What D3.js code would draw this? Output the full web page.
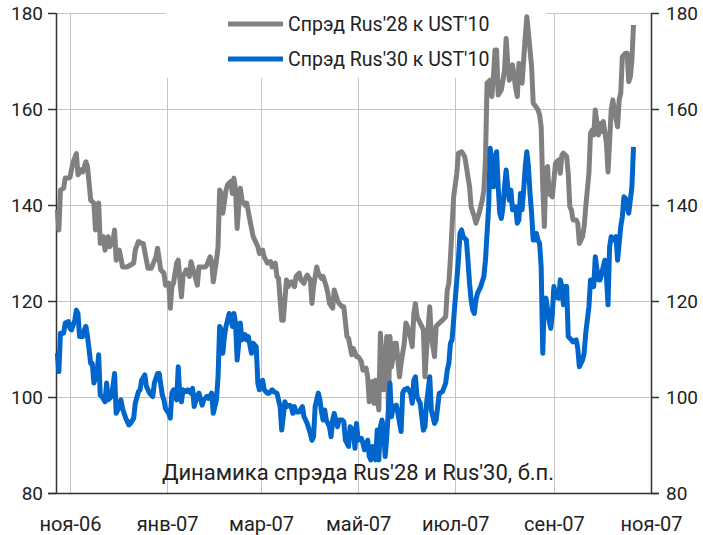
<!DOCTYPE html>
<html><head><meta charset="utf-8">
<script src="https://cdn.jsdelivr.net/npm/d3@7"></script>
<style>
body{margin:0;background:#fff}
svg{display:block}
text{font-family:Roboto,"Noto Sans",sans-serif;fill:#222}
</style>
</head><body>
<svg id="chart" width="703" height="535"></svg>
<script>
// ---- data ----
const seriesNames = ["Спрэд Rus'28 к UST'10", "Спрэд Rus'30 к UST'10"];
const seriesColors = ["#808080", "#0066cc"];
const chartTitle = "Динамика спрэда Rus'28 и Rus'30, б.п.";
const baseDate = "2006-11-01"; // day offsets below are counted from this date
const tickDates = ["2006-11-01","2007-01-01","2007-03-01","2007-05-01","2007-07-01","2007-09-01","2007-11-01"];
const tickLabels = ["ноя-06","янв-07","мар-07","май-07","июл-07","сен-07","ноя-07"];
const yTicks = [80,100,120,140,160,180];

const rus28Days = [-8,-7,-6,-4,-3,-1,0,2,4,5,7,8,10,11,13,15,16,17,18,19,21,22,24,25,27,28,29,31,32,33,36,38,40,41,43,45,46,48,49,51,54,55,57,59,60,62,63,64,65,67,68,70,71,73,75,76,78,80,81,83,85,86,88,89,90,92,93,94,95,96,98,99,101,102,103,104,105,106,107,108,110,111,113,115,118,119,121,122,124,126,127,129,130,131,133,134,136,137,138,139,141,142,144,145,147,148,149,151,152,153,155,156,158,159,161,162,163,165,166,168,169,171,172,174,175,177,178,180,181,183,184,186,187,188,190,191,192,193,194,195,196,197,199,200,201,202,203,204,205,206,207,208,210,211,212,214,215,216,217,218,220,222,223,224,226,227,229,230,232,234,236,237,238,239,241,243,244,246,248,249,251,252,254,255,257,259,260,261,262,264,265,266,267,268,269,271,272,273,274,275,276,277,278,280,281,282,283,284,285,286,287,288,290,291,292,294,295,296,297,298,299,300,301,303,304,305,307,308,309,310,312,313,314,315,316,318,319,320,322,323,324,326,327,328,329,330,332,333,334,335,337,338,340,341,342,344,345,346,347,349,350,351,352,353,354];
const rus28 = [139.0,134.8,143.1,143.5,145.6,145.6,145.8,149.0,150.7,146.3,147.3,146.9,149.0,148.0,141.0,140.4,134.8,136.2,140.4,132.0,133.4,130.6,133.4,131.3,132.4,134.8,128.5,130.6,128.9,127.1,127.1,127.5,127.9,130.6,132.4,132.0,132.0,128.5,126.8,126.8,129.2,131.0,126.5,125.8,123.3,123.7,118.5,123.0,123.7,127.9,128.5,120.9,125.1,126.5,125.1,128.2,125.8,123.3,127.1,127.1,127.1,127.5,129.2,128.2,124.0,128.5,131.3,143.1,142.4,138.3,143.1,144.2,144.9,142.4,145.6,143.1,135.1,139.6,143.5,141.0,140.0,140.4,136.9,133.5,131.3,129.9,130.6,129.2,127.9,128.2,127.1,127.9,125.1,124.7,116.0,116.0,124.4,123.0,123.7,124.0,123.0,125.1,125.8,124.4,123.7,124.7,125.4,124.4,119.5,123.0,127.1,125.8,124.7,125.1,123.0,121.6,119.5,118.5,122.3,120.2,119.5,118.8,118.8,112.6,112.2,108.8,110.1,108.4,108.4,107.4,105.6,106.0,104.2,99.0,103.2,98.7,103.5,100.1,97.3,113.3,107.7,101.5,112.6,98.0,112.6,106.3,108.4,111.2,111.2,107.7,104.2,107.0,111.2,115.4,114.7,112.2,110.5,117.4,119.5,116.7,115.4,114.0,104.2,109.8,118.8,112.6,108.4,114.7,115.4,116.0,116.7,122.3,123.7,128.9,141.7,146.6,150.8,151.1,150.1,148.0,143.8,139.6,137.6,136.2,138.3,141.0,143.1,149.4,165.4,166.0,162.6,166.7,172.3,172.3,162.9,164.0,166.0,168.1,174.7,169.5,166.0,168.1,169.2,164.3,162.6,169.5,166.4,165.4,170.2,175.1,179.2,175.8,168.8,161.2,160.8,159.8,158.8,156.3,143.8,135.5,147.3,148.0,142.4,141.7,145.2,148.7,149.4,146.6,150.4,150.8,150.1,146.6,139.6,139.0,136.9,136.9,136.2,132.0,133.4,135.5,139.6,146.6,154.9,155.6,154.6,159.8,154.6,157.0,155.3,157.4,152.9,146.9,159.8,161.9,159.8,156.3,161.9,163.3,170.9,171.6,171.6,165.7,166.7,170.2,177.5];

const rus30Days = [-8,-7,-6,-4,-3,-1,0,1,3,4,5,6,8,9,10,11,13,14,15,17,18,19,20,22,23,24,26,27,28,29,30,32,33,35,37,38,40,41,43,44,45,47,48,50,52,53,55,56,58,59,60,62,63,64,65,67,68,69,70,71,73,74,76,77,78,80,81,83,84,86,87,89,90,92,93,94,95,96,97,98,100,101,102,103,104,105,106,107,108,110,111,112,114,115,117,118,119,121,122,124,125,127,128,130,131,132,133,135,136,138,139,140,141,142,144,146,147,148,149,151,152,153,154,156,157,158,159,160,161,162,163,164,165,166,168,169,171,172,173,175,176,178,179,180,181,183,184,185,187,188,189,190,192,193,194,195,196,197,198,199,200,201,202,203,205,206,208,209,210,212,214,215,216,217,218,220,222,223,224,226,227,229,230,232,234,236,237,238,239,240,242,244,245,246,247,249,250,251,252,253,254,255,256,258,260,261,262,263,264,265,266,267,268,269,270,271,272,273,274,275,276,277,278,280,281,282,283,284,285,286,287,288,289,290,291,292,293,294,295,296,297,298,299,301,302,303,304,305,307,308,309,310,311,312,313,315,316,318,319,320,322,323,324,326,327,328,329,330,332,333,335,336,337,338,339,340,342,343,344,346,347,348,349,351,352,353,354];
const rus30 = [109.1,105.3,113.3,113.3,115.4,115.7,114.3,114.0,116.0,118.1,117.4,112.6,112.6,114.0,114.7,112.6,107.0,107.0,102.9,104.9,108.8,100.4,100.1,99.0,102.9,99.4,100.1,102.2,104.9,96.6,97.3,99.4,97.6,95.6,94.2,94.5,95.6,98.7,101.1,101.5,103.5,104.6,102.2,100.8,100.1,102.9,104.9,104.9,100.4,99.4,97.6,96.6,95.6,100.8,101.5,99.4,106.3,100.1,99.0,101.5,101.1,101.5,100.8,101.8,98.0,100.4,100.8,98.3,99.4,100.1,99.7,100.8,96.6,99.4,104.2,114.7,114.0,109.1,112.6,114.7,117.4,116.7,114.7,117.4,115.4,107.7,111.2,115.4,111.9,113.0,111.9,112.6,109.1,111.2,110.5,102.9,101.5,103.5,101.5,100.8,100.8,101.5,101.1,100.8,99.4,98.0,93.1,99.0,98.0,98.3,98.0,96.6,98.0,96.9,96.9,98.0,95.9,95.2,94.5,92.4,91.0,91.7,98.0,100.8,99.4,96.9,95.2,97.3,95.2,94.5,93.8,91.7,95.2,96.6,93.8,95.2,95.2,94.9,91.0,89.7,93.8,93.1,89.3,94.5,91.0,91.4,90.4,89.0,91.0,87.6,86.9,89.7,86.9,93.1,86.9,93.8,95.2,93.1,87.6,91.7,97.3,102.9,95.9,98.0,98.3,96.6,92.8,100.8,101.5,101.8,100.8,98.7,103.5,104.2,100.1,98.7,93.1,93.8,98.7,104.2,97.3,94.5,95.2,100.8,101.1,102.9,105.6,107.0,111.2,111.9,120.2,128.5,134.1,134.8,133.4,132.7,128.5,123.7,120.2,118.1,117.4,120.2,121.6,123.0,125.1,128.5,134.1,139.6,151.8,148.0,143.8,150.1,151.1,143.8,138.3,137.2,139.6,143.8,147.3,143.8,141.0,143.1,139.0,139.6,136.2,136.9,142.4,139.0,143.1,148.0,151.1,148.0,142.4,138.3,132.7,132.7,134.1,132.7,132.0,127.1,109.1,120.2,120.6,116.0,114.3,117.4,123.0,120.9,120.6,124.4,123.0,119.2,123.0,123.0,112.6,111.9,111.5,111.9,110.1,106.3,107.7,109.1,113.3,118.8,124.4,124.4,123.0,129.2,124.4,124.4,127.1,128.5,125.1,119.2,131.3,133.4,132.7,133.4,128.5,135.5,137.6,141.7,141.4,138.3,141.0,143.8,152.1];

// ---- chart ----
const svg = d3.select("#chart");
const plot = {left: 56, right: 651, top: 13, bottom: 493};
const base = new Date(baseDate + "T00:00:00Z");
const toDate = d => d3.utcDay.offset(base, d);
const start = new Date(base.getTime() - 8.8 * 864e5);
const x = d3.scaleUtc().domain([start, new Date(tickDates[6] + "T00:00:00Z")]).range([plot.left, plot.right]);
const y = d3.scaleLinear().domain([80, 180]).range([plot.bottom, plot.top]);

// grid
const grid = svg.append("g");
grid.selectAll("line.h").data(yTicks.slice(1)).join("line")
  .attr("x1", plot.left).attr("x2", plot.right)
  .attr("y1", d => Math.round(y(d)) + 0.5).attr("y2", d => Math.round(y(d)) + 0.5)
  .attr("stroke", "#c4c4c4").attr("stroke-width", 1);
const tDates = tickDates.map(s => new Date(s + "T00:00:00Z"));
grid.selectAll("line.v").data(tDates.slice(0, 6)).join("line")
  .attr("x1", d => Math.round(x(d)) + 0.5).attr("x2", d => Math.round(x(d)) + 0.5)
  .attr("y1", plot.top).attr("y2", plot.bottom)
  .attr("stroke", "#c4c4c4").attr("stroke-width", 1);

// legend background (covers the grid)
svg.append("rect").attr("x", 166).attr("y", 0).attr("width", 380).attr("height", 78).attr("fill", "#fff");

// axes
const axisColor = "#333";
const left = svg.append("g").attr("transform", `translate(${plot.left},0)`)
  .call(d3.axisLeft(y).tickValues(yTicks).tickSize(8).tickPadding(5));
const right = svg.append("g").attr("transform", `translate(${plot.right},0)`)
  .call(d3.axisRight(y).tickValues(yTicks).tickSize(8).tickPadding(7));
const bottom = svg.append("g").attr("transform", `translate(0,${plot.bottom})`)
  .call(d3.axisBottom(x).tickValues(tDates).tickSize(0).tickPadding(24).tickFormat((d, i) => tickLabels[i]));
[left, right, bottom].forEach(g => {
  g.selectAll("path.domain").attr("stroke", axisColor).attr("stroke-width", 1.5);
  g.selectAll(".tick line").attr("stroke", axisColor).attr("stroke-width", 1.5);
  g.selectAll("text").attr("font-family", "Roboto, sans-serif").attr("font-size", 19).attr("fill", "#222");
});
bottom.selectAll("text").attr("font-size", 20);
left.select("path.domain").attr("d", `M0.5,${plot.top}V${plot.bottom}`);
right.select("path.domain").attr("d", `M0.5,${plot.top}V${plot.bottom}`);
bottom.select("path.domain").attr("d", `M${plot.left - 8},0.5H${plot.right + 8}`);

// series
const line = d3.line().x(d => x(d[0])).y(d => y(d[1])).curve(d3.curveLinear);
const data = [
  rus28Days.map((d, i) => [toDate(d), rus28[i]]),
  rus30Days.map((d, i) => [toDate(d), rus30[i]])
];
svg.append("g").selectAll("path").data(data).join("path")
  .attr("d", line).attr("fill", "none")
  .attr("stroke", (d, i) => seriesColors[i]).attr("stroke-width", 5)
  .attr("stroke-linejoin", "round").attr("stroke-linecap", "butt");

// legend
const lg = svg.append("g");
const legY = [24, 59];
seriesNames.forEach((n, i) => {
  lg.append("line").attr("x1", 228).attr("x2", 283).attr("y1", legY[i]).attr("y2", legY[i])
    .attr("stroke", seriesColors[i]).attr("stroke-width", 5);
  lg.append("text").attr("x", 288).attr("y", legY[i]).attr("dy", "0.35em")
    .attr("font-size", 19.5).text(n);
});

// title at bottom of plot
svg.append("text").attr("x", 358).attr("y", 480).attr("text-anchor", "middle")
  .attr("font-size", 22).text(chartTitle);
</script>
</body></html>
